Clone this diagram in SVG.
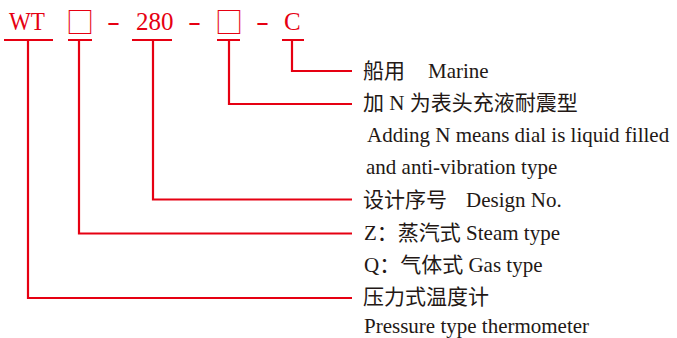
<svg xmlns="http://www.w3.org/2000/svg" width="677" height="338" viewBox="0 0 677 338">
<style>
.code{font-family:"Liberation Serif","Noto Sans CJK SC",serif;font-size:25px;fill:#e60012}
.sq{font-family:"Noto Sans CJK SC","DejaVu Sans",sans-serif;font-size:28px;fill:#e60012}
.t{font-family:"Liberation Serif","Noto Sans CJK SC",serif;font-size:21px;fill:#231815}
.c{fill:none;stroke:#e60012;stroke-width:2.2}
</style>
<rect width="677" height="338" fill="#fff"/>
<g id="code">
<text class="code" x="9" y="30" textLength="36" lengthAdjust="spacingAndGlyphs">WT</text>
<text class="sq" x="66" y="33">□</text>
<text class="code" x="107" y="30" textLength="13" lengthAdjust="spacingAndGlyphs">-</text>
<text class="code" x="136" y="30">280</text>
<text class="code" x="188" y="30" textLength="13" lengthAdjust="spacingAndGlyphs">-</text>
<text class="sq" x="215" y="33">□</text>
<text class="code" x="256" y="30" textLength="13" lengthAdjust="spacingAndGlyphs">-</text>
<text class="code" x="284" y="30">C</text>
</g>
<g id="connectors">
<path class="c" d="M4 40H53M28 40V298H352"/>
<path class="c" d="M68 40H92M79 40V233.5H352"/>
<path class="c" d="M132 40H172M153 40V199.5H352"/>
<path class="c" d="M217 40H240M229 40V104H352"/>
<path class="c" d="M282 40H304M292 40V71H352"/>
</g>
<g id="marine"><text class="t" x="363" y="78">船用 <tspan x="428">Marine</tspan></text></g>
<g id="filled">
<text class="t" x="363" y="110">加 N 为表头充液耐震型</text>
<text class="t" x="367" y="142">Adding N means dial is liquid filled</text>
<text class="t" x="366" y="174">and anti-vibration type</text>
</g>
<g id="design"><text class="t" x="363" y="207">设计序号 <tspan x="466">Design No.</tspan></text></g>
<g id="type">
<text class="t" x="364" y="240">Z：蒸汽式 Steam type</text>
<text class="t" x="364" y="272">Q：气体式 Gas type</text>
</g>
<g id="pressure">
<text class="t" x="363" y="304">压力式温度计</text>
<text class="t" x="364" y="333">Pressure type thermometer</text>
</g>
</svg>
